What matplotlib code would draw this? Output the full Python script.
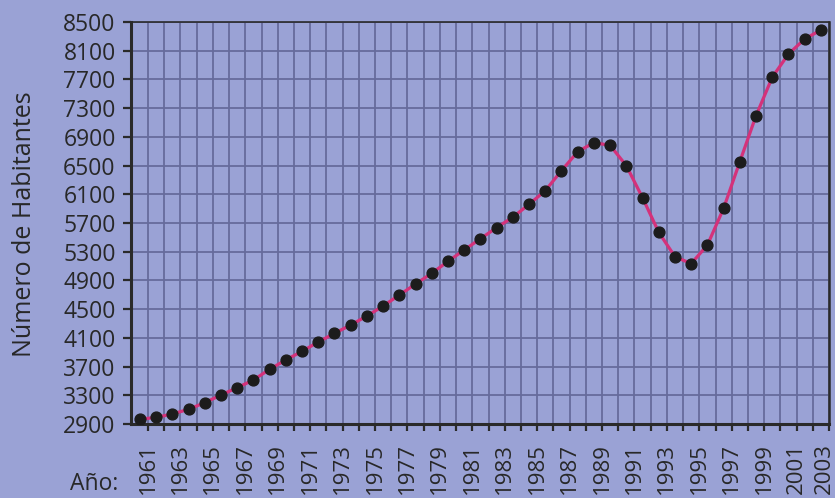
"""
Población por año: línea con puntos, fondo lavanda y cuadrícula densa.
"""

import matplotlib
import matplotlib.pyplot as plt
from matplotlib.transforms import ScaledTranslation

matplotlib.use("Agg")  # Non-interactive backend

plt.rcParams['font.family'] = ['Open Sans', 'DejaVu Sans']

# Data
years = list(range(1961, 2004))
habitantes = [
    2965, 2993, 3039, 3105, 3197, 3304, 3406, 3513, 3662, 3792,
    3913, 4042, 4163, 4279, 4404, 4544, 4697, 4850, 4999, 5166,
    5324, 5481, 5635, 5781, 5960, 6150, 6429, 6693, 6819, 6782,
    6498, 6052, 5570, 5231, 5134, 5393, 5905, 6554, 7195, 7730,
    8054, 8263, 8388,
]
y_ticks = list(range(2900, 8501, 400))
label_years = [y for y in years if y % 2 == 1]

BG = '#9AA2D5'
GRID = '#666B9C'
TEXT = '#282828'
LINE = '#D4327A'
DOT = '#1C1C1C'

fig = plt.figure(figsize=(8.35, 4.98), dpi=100, facecolor=BG)
ax = fig.add_axes([131 / 835, 1 - 424 / 498, (829 - 131) / 835, (424 - 22) / 498])
ax.set_facecolor(BG)

ax.plot(years, habitantes, color=LINE, linewidth=2.3, zorder=3)
ax.plot(years, habitantes, linestyle='none', marker='o', markersize=7.8,
        color=DOT, zorder=4)

ax.set_xlim(1960.45, 2003.5)
ax.set_ylim(2900, 8500)

# ticks sit half a year to the right of each point
ax.set_xticks([y + 0.5 for y in label_years])
ax.set_xticklabels([str(y) for y in label_years], rotation=90)
ax.set_xticks([y + 0.5 for y in years if y % 2 == 0], minor=True)
ax.set_yticks(y_ticks)
ax.set_yticklabels([str(v) for v in y_ticks])

ax.tick_params(axis='y', which='major', direction='out', length=6, width=1.6,
               color='#2A2A2A', labelsize=16.5, labelcolor=TEXT, pad=5)
ax.tick_params(axis='x', which='both', direction='out', length=5, width=1.6,
               color='#2A2A2A', labelsize=16, labelcolor=TEXT, pad=9)

# keep the last year label inside the picture
last = ax.get_xticklabels()[-1]
last.set_transform(last.get_transform() + ScaledTranslation(-5 / 100, 0, fig.dpi_scale_trans))

ax.grid(which='both', axis='x', color=GRID, linewidth=1.3)
ax.grid(which='major', axis='y', color=GRID, linewidth=1.3)
ax.set_axisbelow(True)

for side, lw in (('left', 2.2), ('bottom', 2.2), ('top', 1.2), ('right', 1.8)):
    ax.spines[side].set_linewidth(lw)
    ax.spines[side].set_color('#2A2A2A')

fig.text(25 / 835, 1 - 224 / 498, "Número de Habitantes", rotation=90,
         ha='center', va='center', fontsize=18, color=TEXT)
fig.text(118 / 835, 1 - 490 / 498, "Año:", ha='right', va='baseline',
         fontsize=16.5, color=TEXT)

plt.savefig("out.png", dpi=100, facecolor=BG)
plt.close()
